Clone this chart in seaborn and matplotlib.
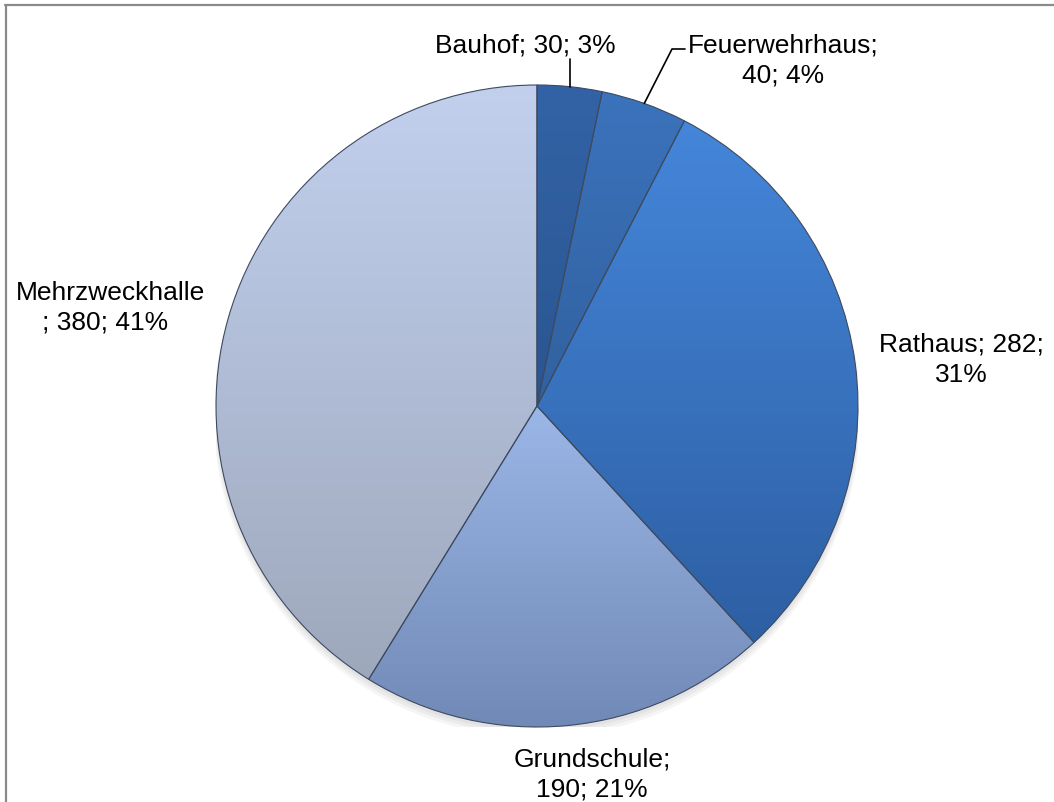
import numpy as np
import matplotlib
matplotlib.use("Agg")
import matplotlib.pyplot as plt
import seaborn as sns
from matplotlib.colors import LinearSegmentedColormap
from matplotlib.lines import Line2D

categories = ["Bauhof", "Feuerwehrhaus", "Rathaus", "Grundschule", "Mehrzweckhalle"]
values = [30, 40, 282, 190, 380]
percent_labels = ["3%", "4%", "31%", "21%", "41%"]

top_colors = ["#3363A6", "#3B73BC", "#4586DA", "#9BB7E7", "#C2D0EE"]
bottom_colors = ["#2A5591", "#31619F", "#2D5FA3", "#7189B6", "#9EA8BC"]

sns.set_style("white")
plt.rcParams["font.family"] = ["Liberation Sans", "DejaVu Sans"]

W, H = 1054, 803
fig = plt.figure(figsize=(W / 100, H / 100), dpi=100)
fig.patch.set_facecolor("white")

cx, cy, R = 537, 407, 321
ax = fig.add_axes([(cx - R) / W, (H - cy - R) / H, 2 * R / W, 2 * R / H])
ax.set_xlim(-1, 1)
ax.set_ylim(-1, 1)
ax.set_aspect("equal")
ax.axis("off")

# soft shadow
for i, a in enumerate([0.05, 0.05, 0.05]):
    sh = plt.Circle((0, -0.012 - 0.006 * i), 1.0 + 0.004 * i, color="#404040", alpha=a, zorder=0, lw=0)
    ax.add_patch(sh)

wedges, _ = ax.pie(values, startangle=90, counterclock=False, radius=1.0,
                   colors=top_colors,
                   wedgeprops=dict(edgecolor="#3d4a60", linewidth=0.8))

for w, tc, bc in zip(wedges, top_colors, bottom_colors):
    w.set_zorder(2)
    ext = w.get_path().get_extents(w.get_patch_transform())
    cmap = LinearSegmentedColormap.from_list("g", [bc, tc])
    grad = np.linspace(0, 1, 256).reshape(-1, 1)
    im = ax.imshow(grad, cmap=cmap, origin="lower", aspect="auto",
                   extent=(-1, 1, ext.y0, ext.y1), zorder=1, interpolation="bilinear")
    im.set_clip_path(w)
    w.set_facecolor("none")
    ax.set_xlim(-1, 1)
    ax.set_ylim(-1, 1)


def fx(x, y):
    return x / W, 1 - y / H


fs = 19
# label lines (pixel positions of line centers / baselines)
label_lines = {
    "Bauhof": [(f"Bauhof; {values[0]}; {percent_labels[0]}", 525, 53)],
    "Feuerwehrhaus": [("Feuerwehrhaus;", 783, 52), (f"{values[1]}; {percent_labels[1]}", 783, 82)],
    "Rathaus": [(f"Rathaus; {values[2]};", 961, 352), (percent_labels[2], 961, 382)],
    "Grundschule": [("Grundschule;", 592, 767), (f"{values[3]}; {percent_labels[3]}", 592, 797)],
    "Mehrzweckhalle": [("Mehrzweckhalle", 110, 300), (f"; {values[4]}; {percent_labels[4]}", 105, 330)],
}
for cat in categories:
    for txt, x, y in label_lines[cat]:
        fig.text(*fx(x, y), txt, ha="center", va="baseline", fontsize=fs, color="black")

# leader lines from wedge mid-angles
total = sum(values)
cum = np.cumsum([0] + values)
def mid_point(i):
    ang = np.deg2rad(90 - 360 * (cum[i] + values[i] / 2) / total)
    return np.cos(ang), np.sin(ang)

def to_data(px, py):
    return (px - cx) / R, (cy - py) / R

x0, y0 = mid_point(0)
x1, y1 = to_data(0, 60)
ax.plot([x0, x0], [y0, y1], color="black", lw=1.2, clip_on=False, zorder=5)

x0, y0 = mid_point(1)
xa, ya = to_data(672, 50)
xb, yb = to_data(685, 50)
ax.plot([x0, xa, xb], [y0, ya, yb], color="black", lw=1.2, clip_on=False, zorder=5)

# chart border (top and left)
fig.add_artist(Line2D([5 / W, 1], [1 - 6 / H, 1 - 6 / H], color="#8a8a8a", lw=1.6))
fig.add_artist(Line2D([5.5 / W, 5.5 / W], [0, 1 - 6 / H], color="#8a8a8a", lw=1.6))

fig.savefig("out.png", dpi=100, facecolor="white")
